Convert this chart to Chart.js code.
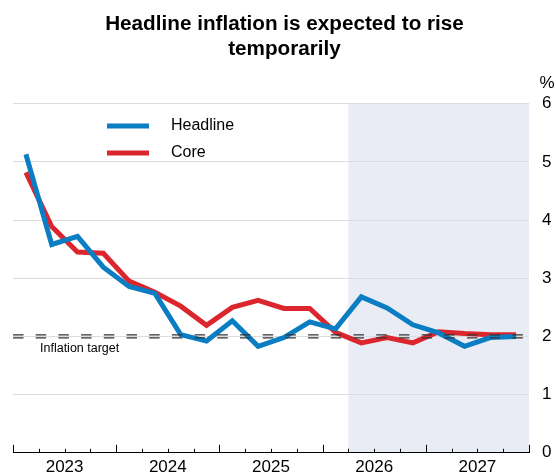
<!DOCTYPE html>
<html>
<head>
<meta charset="utf-8">
<script src="https://cdn.jsdelivr.net/npm/chart.js@4"></script>
<style>
  body { margin: 0; background: #fff; }
  #wrap { width: 556px; height: 476px; }
</style>
</head>
<body>
<div id="wrap"><canvas id="myChart" width="556" height="476"></canvas></div>
<script>
// quarterly data, 2023Q1 .. 2027Q4
const quarters = ['2023Q1','2023Q2','2023Q3','2023Q4','2024Q1','2024Q2','2024Q3','2024Q4',
  '2025Q1','2025Q2','2025Q3','2025Q4','2026Q1','2026Q2','2026Q3','2026Q4',
  '2027Q1','2027Q2','2027Q3','2027Q4']
const years = ['2023', '2024', '2025', '2026', '2027']
const headline = [5.13, 3.58, 3.72, 3.19, 2.86, 2.74, 2.03, 1.92, 2.27, 1.83,
  1.98, 2.25, 2.13, 2.68, 2.49, 2.2, 2.06, 1.83, 1.98, 2.0]
const core = [4.82, 3.89, 3.45, 3.43, 2.95, 2.76, 2.52, 2.19, 2.5, 2.62,
  2.48, 2.48, 2.07, 1.89, 1.98, 1.89, 2.08, 2.05, 2.03, 2.03]
const yTicks = [0, 1, 2, 3, 4, 5, 6]
const target = 2
const forecastStart = 13 // index of first shaded quarter

const BLUE = '#0b7dc2'
const RED = '#dc262e'
const FONT = 'Arial, "Liberation Sans", sans-serif'

function toPoints(arr){
    return arr.map((v, i) => ({x: i + 0.5, y: v}))
}

const extras = {
    id: 'extras',
    beforeDraw(chart){
        const {ctx, chartArea, scales} = chart
        const x0 = scales.x.getPixelForValue(forecastStart)
        ctx.save()
        ctx.fillStyle = '#e9ecf5'
        ctx.fillRect(x0, chartArea.top, chartArea.right - x0, chartArea.bottom - chartArea.top)
        ctx.restore()
    },
    afterDatasetsDraw(chart){
        const {ctx, chartArea, scales} = chart
        const y = scales.y.getPixelForValue(target)
        ctx.save()
        // double dashed target line
        ctx.strokeStyle = '#333'
        ctx.lineWidth = 1.2
        ctx.setLineDash([10.5, 12.2])
        for (const off of [-1.5, 1.5]) {
            ctx.beginPath()
            ctx.moveTo(chartArea.left, y + off)
            ctx.lineTo(chartArea.right, y + off)
            ctx.stroke()
        }
        ctx.setLineDash([])
        ctx.fillStyle = '#000'
        ctx.font = '12.5px ' + FONT
        ctx.textBaseline = 'middle'
        ctx.fillText('Inflation target', chartArea.left + 27, y + 12)

        // tick marks pointing up from the x axis
        ctx.strokeStyle = '#000'
        ctx.lineWidth = 1
        for (let q = 0; q <= quarters.length; q++) {
            const px = Math.round(scales.x.getPixelForValue(q)) + 0.5
            const len = q % 4 === 0 ? 8 : 4
            ctx.beginPath()
            ctx.moveTo(px, chartArea.bottom)
            ctx.lineTo(px, chartArea.bottom - len)
            ctx.stroke()
        }

        // legend
        const items = [['Headline', BLUE], ['Core', RED]]
        ctx.font = '16px ' + FONT
        items.forEach((it, i) => {
            const ly = 126 + i * 27
            ctx.strokeStyle = it[1]
            ctx.lineWidth = 5
            ctx.beginPath()
            ctx.moveTo(107, ly)
            ctx.lineTo(149, ly)
            ctx.stroke()
            ctx.fillStyle = '#000'
            ctx.fillText(it[0], 171, ly)
        })

        // unit label
        ctx.font = '17px ' + FONT
        ctx.textAlign = 'center'
        ctx.fillText('%', 547, 83)
        ctx.restore()
    }
}

const ctx = document.getElementById('myChart')
new Chart(ctx, {
    type: 'line',
    data: {
        datasets: [
            {label: 'Headline', data: toPoints(headline), borderColor: BLUE, borderWidth: 5, pointRadius: 0, tension: 0},
            {label: 'Core', data: toPoints(core), borderColor: RED, borderWidth: 5, pointRadius: 0, tension: 0}
        ]
    },
    options: {
        responsive: false,
        animation: false,
        layout: {padding: {left: 13, right: 0, bottom: 0}},
        plugins: {
            legend: {display: false},
            tooltip: {enabled: false},
            title: {
                display: true,
                text: ['Headline inflation is expected to rise', 'temporarily'],
                color: '#000',
                font: {family: FONT, size: 20.7, weight: 'bold', lineHeight: 1.2},
                padding: {top: 12, bottom: 42}
            }
        },
        scales: {
            x: {
                type: 'linear',
                min: 0,
                max: quarters.length,
                grid: {display: false, drawTicks: false, tickLength: 0},
                border: {display: true, color: '#000', width: 1},
                afterBuildTicks(scale){
                    scale.ticks = years.map((y, i) => ({value: i * 4 + 2}))
                },
                afterFit(scale){ scale.height = 22.5 },
                ticks: {
                    autoSkip: false,
                    maxRotation: 0,
                    padding: 4,
                    color: '#000',
                    font: {family: FONT, size: 17},
                    callback: (v) => years[(v - 2) / 4]
                }
            },
            y: {
                position: 'right',
                min: 0,
                max: 6,
                afterBuildTicks(scale){
                    scale.ticks = yTicks.map(v => ({value: v}))
                },
                afterFit(scale){ scale.width = 27 },
                grid: {color: '#dcdcdc', drawTicks: false, lineWidth: 1},
                border: {display: false},
                ticks: {
                    padding: 13,
                    color: '#000',
                    font: {family: FONT, size: 17}
                }
            }
        }
    },
    plugins: [extras]
})
</script>
</body>
</html>
